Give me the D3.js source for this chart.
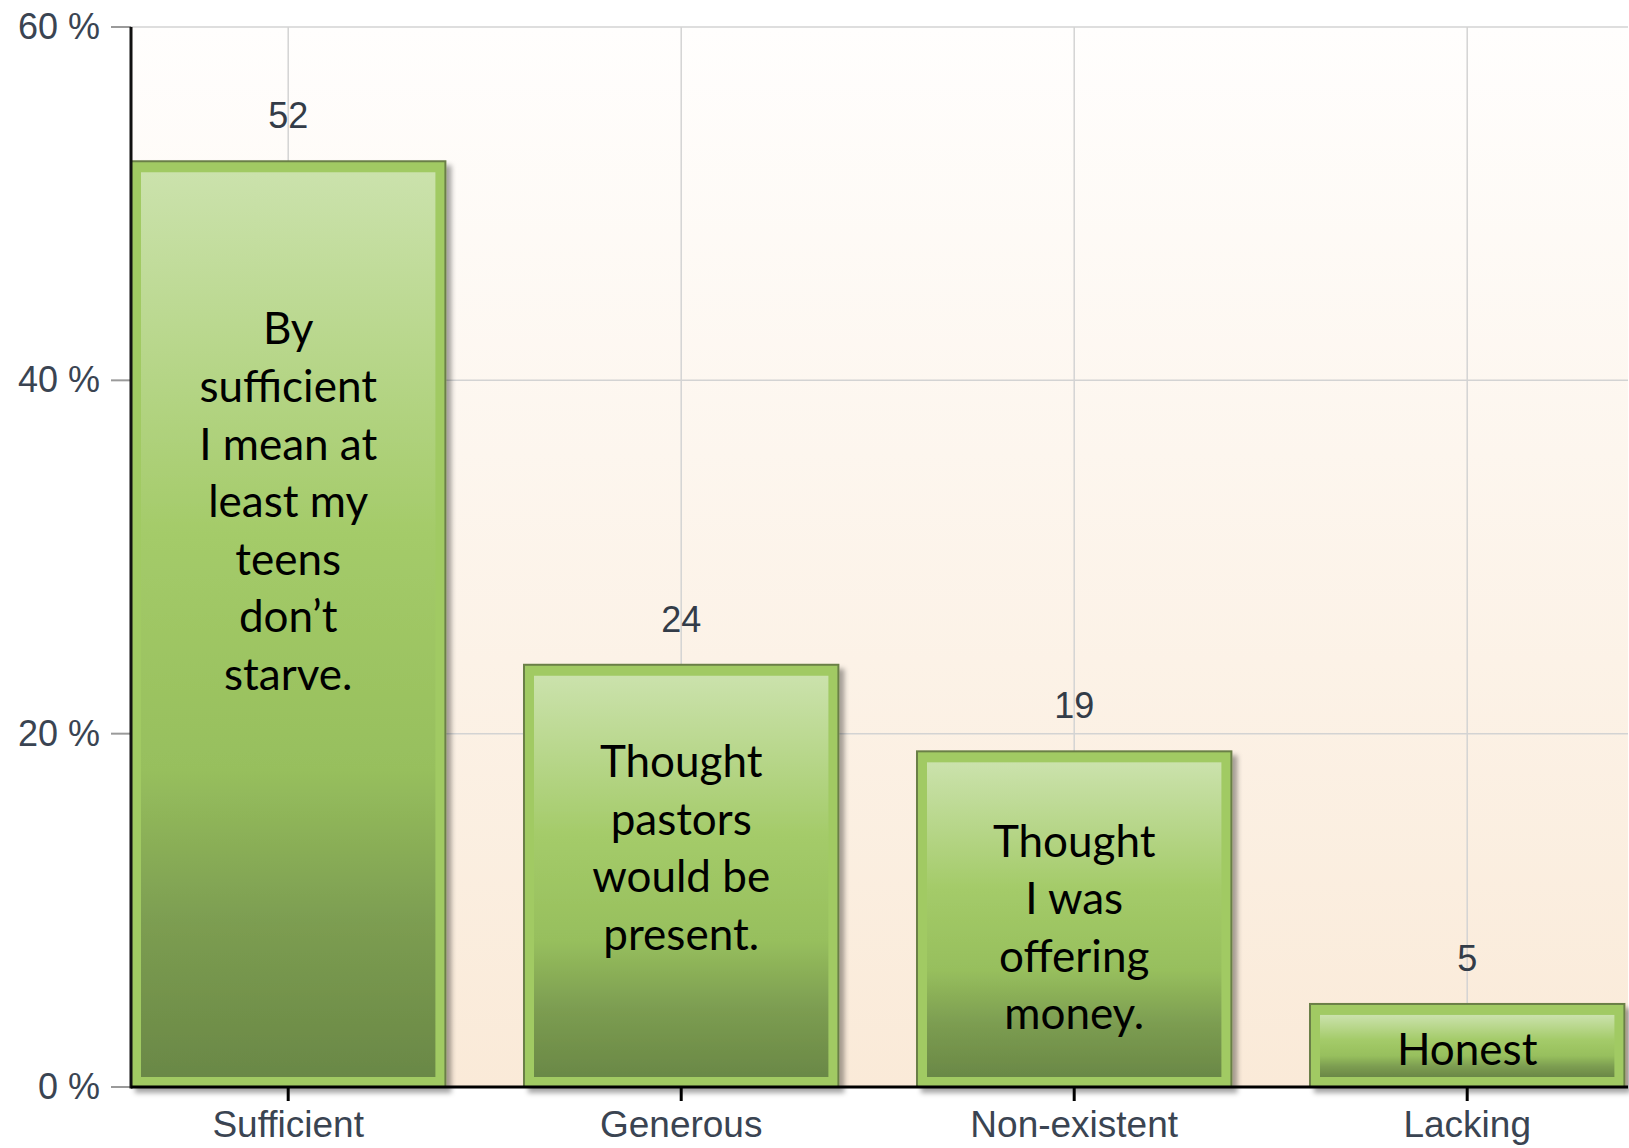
<!DOCTYPE html>
<html>
<head>
<meta charset="utf-8">
<script src="https://cdn.jsdelivr.net/npm/d3@7"></script>
<style>
  html, body { margin: 0; padding: 0; background: #fff; }
  svg { display: block; }
</style>
</head>
<body>
<script>
// Chart data
var categories = ["Sufficient", "Generous", "Non-existent", "Lacking"];
var values = [52.4, 23.9, 19.0, 4.7];
var yTicks = [0, 20, 40, 60];
var notes = [
  ["By", "sufficient", "I mean at", "least my", "teens", "don\u2019t", "starve."],
  ["Thought", "pastors", "would be", "present."],
  ["Thought", "I was", "offering", "money."],
  ["Honest"]
];
// where each note block is centred, in chart units (%)
var noteAt = [33.1, 13.5, 9.0, 2.1];

var W = 1629, H = 1148;
var plotLeft = 131, plotTop = 27, plotBottom = 1087, plotRight = 1628;

var svg = d3.select("body").append("svg")
  .attr("width", W)
  .attr("height", H);

var defs = svg.append("defs");

// plot background: white fading to peach
var bg = defs.append("linearGradient").attr("id", "bg")
  .attr("x1", 0).attr("y1", 0).attr("x2", 0).attr("y2", 1);
bg.append("stop").attr("offset", "0%").attr("stop-color", "#fffefd");
bg.append("stop").attr("offset", "100%").attr("stop-color", "#faead8");

// inner bar fill
var bar = defs.append("linearGradient").attr("id", "barFill")
  .attr("x1", 0).attr("y1", 0).attr("x2", 0).attr("y2", 1);
bar.append("stop").attr("offset", "0%").attr("stop-color", "#cbe2ac");
bar.append("stop").attr("offset", "40%").attr("stop-color", "#a4cb69");
bar.append("stop").attr("offset", "66%").attr("stop-color", "#97bf5d");
bar.append("stop").attr("offset", "83%").attr("stop-color", "#7c9d51");
bar.append("stop").attr("offset", "100%").attr("stop-color", "#6a8846");

var shadow = defs.append("filter").attr("id", "shadow")
  .attr("x", "-10%").attr("y", "-10%").attr("width", "130%").attr("height", "130%");
shadow.append("feDropShadow")
  .attr("dx", 5).attr("dy", 5).attr("stdDeviation", 2.5)
  .attr("flood-color", "#000").attr("flood-opacity", 0.35);

// scales
var x = d3.scaleBand()
  .domain(categories)
  .range([plotLeft, 1624.4])
  .paddingInner(0.2)
  .paddingOuter(0);

var y = d3.scaleLinear()
  .domain([0, 60])
  .range([plotBottom, plotTop]);

svg.append("rect")
  .attr("x", plotLeft).attr("y", plotTop)
  .attr("width", plotRight - plotLeft).attr("height", plotBottom - plotTop)
  .attr("fill", "url(#bg)");

// horizontal grid + grey y ticks
svg.selectAll(".hgrid").data(yTicks.filter(function (d) { return d > 0; }))
  .enter().append("line")
  .attr("x1", plotLeft).attr("x2", plotRight)
  .attr("y1", function (d) { return y(d); })
  .attr("y2", function (d) { return y(d); })
  .attr("stroke", "#d3d3d3").attr("stroke-width", 1.5);

svg.selectAll(".ytick").data(yTicks)
  .enter().append("line")
  .attr("x1", 111).attr("x2", plotLeft)
  .attr("y1", function (d) { return y(d); })
  .attr("y2", function (d) { return y(d); })
  .attr("stroke", "#9a9a9a").attr("stroke-width", 2);

svg.selectAll(".ylab").data(yTicks)
  .enter().append("text")
  .attr("x", 100)
  .attr("y", function (d) { return y(d) + 12; })
  .attr("text-anchor", "end")
  .attr("font-family", "Liberation Sans, Arial, sans-serif")
  .attr("font-size", 36)
  .attr("fill", "#3a4452")
  .text(function (d) { return d + " %"; });

// vertical grid at category centres
svg.selectAll(".vgrid").data(categories)
  .enter().append("line")
  .attr("x1", function (d) { return x(d) + x.bandwidth() / 2; })
  .attr("x2", function (d) { return x(d) + x.bandwidth() / 2; })
  .attr("y1", plotTop).attr("y2", plotBottom)
  .attr("stroke", "#d3d3d3").attr("stroke-width", 1.5);

// bars
var g = svg.selectAll(".bar").data(values)
  .enter().append("g")
  .attr("class", "bar")
  .attr("filter", "url(#shadow)");

g.append("rect")
  .attr("x", function (d, i) { return x(categories[i]); })
  .attr("y", function (d) { return y(d); })
  .attr("width", x.bandwidth())
  .attr("height", function (d) { return plotBottom - y(d); })
  .attr("fill", "#a1ca64")
  .attr("stroke", "#6b7f47")
  .attr("stroke-width", 2);

g.append("rect")
  .attr("x", function (d, i) { return x(categories[i]) + 10; })
  .attr("y", function (d) { return y(d) + 11; })
  .attr("width", x.bandwidth() - 20)
  .attr("height", function (d) { return plotBottom - y(d) - 21; })
  .attr("fill", "url(#barFill)");

// value labels
svg.selectAll(".val").data(values)
  .enter().append("text")
  .attr("x", function (d, i) { return x(categories[i]) + x.bandwidth() / 2; })
  .attr("y", function (d) { return y(d) - 33; })
  .attr("text-anchor", "middle")
  .attr("font-family", "Liberation Sans, Arial, sans-serif")
  .attr("font-size", 36)
  .attr("fill", "#333c48")
  .text(function (d) { return d3.format(".0f")(d); });

// notes inside the bars
notes.forEach(function (lines, i) {
  var cx = x(categories[i]) + x.bandwidth() / 2;
  var lh = 57.6;
  var cy = y(noteAt[i]) - (lines.length - 1) * lh / 2;
  svg.append("text")
    .attr("text-anchor", "middle")
    .attr("font-family", "Lato, 'Open Sans', sans-serif")
    .attr("font-size", 44)
    .attr("fill", "#000")
    .selectAll("tspan").data(lines)
    .enter().append("tspan")
    .attr("x", cx)
    .attr("y", function (d, j) { return cy + j * lh + 15; })
    .text(function (d) { return d; });
});

// axes lines
svg.append("line")
  .attr("x1", plotLeft).attr("x2", plotLeft)
  .attr("y1", plotTop).attr("y2", plotBottom + 1.5)
  .attr("stroke", "#111").attr("stroke-width", 3);

var xAxis = d3.axisBottom(x).tickSize(14).tickSizeOuter(0).tickPadding(10);
var xa = svg.append("g")
  .attr("transform", "translate(0," + plotBottom + ")")
  .call(xAxis);
xa.select(".domain").attr("stroke", "#000").attr("stroke-width", 3)
  .attr("d", "M" + plotLeft + ",0H" + plotRight);
xa.selectAll(".tick line").attr("stroke", "#000").attr("stroke-width", 3);
xa.selectAll(".tick text")
  .attr("font-family", "Liberation Sans, Arial, sans-serif")
  .attr("font-size", 37)
  .attr("fill", "#3a4452")
  .attr("dy", "0.71em");
</script>
</body>
</html>
